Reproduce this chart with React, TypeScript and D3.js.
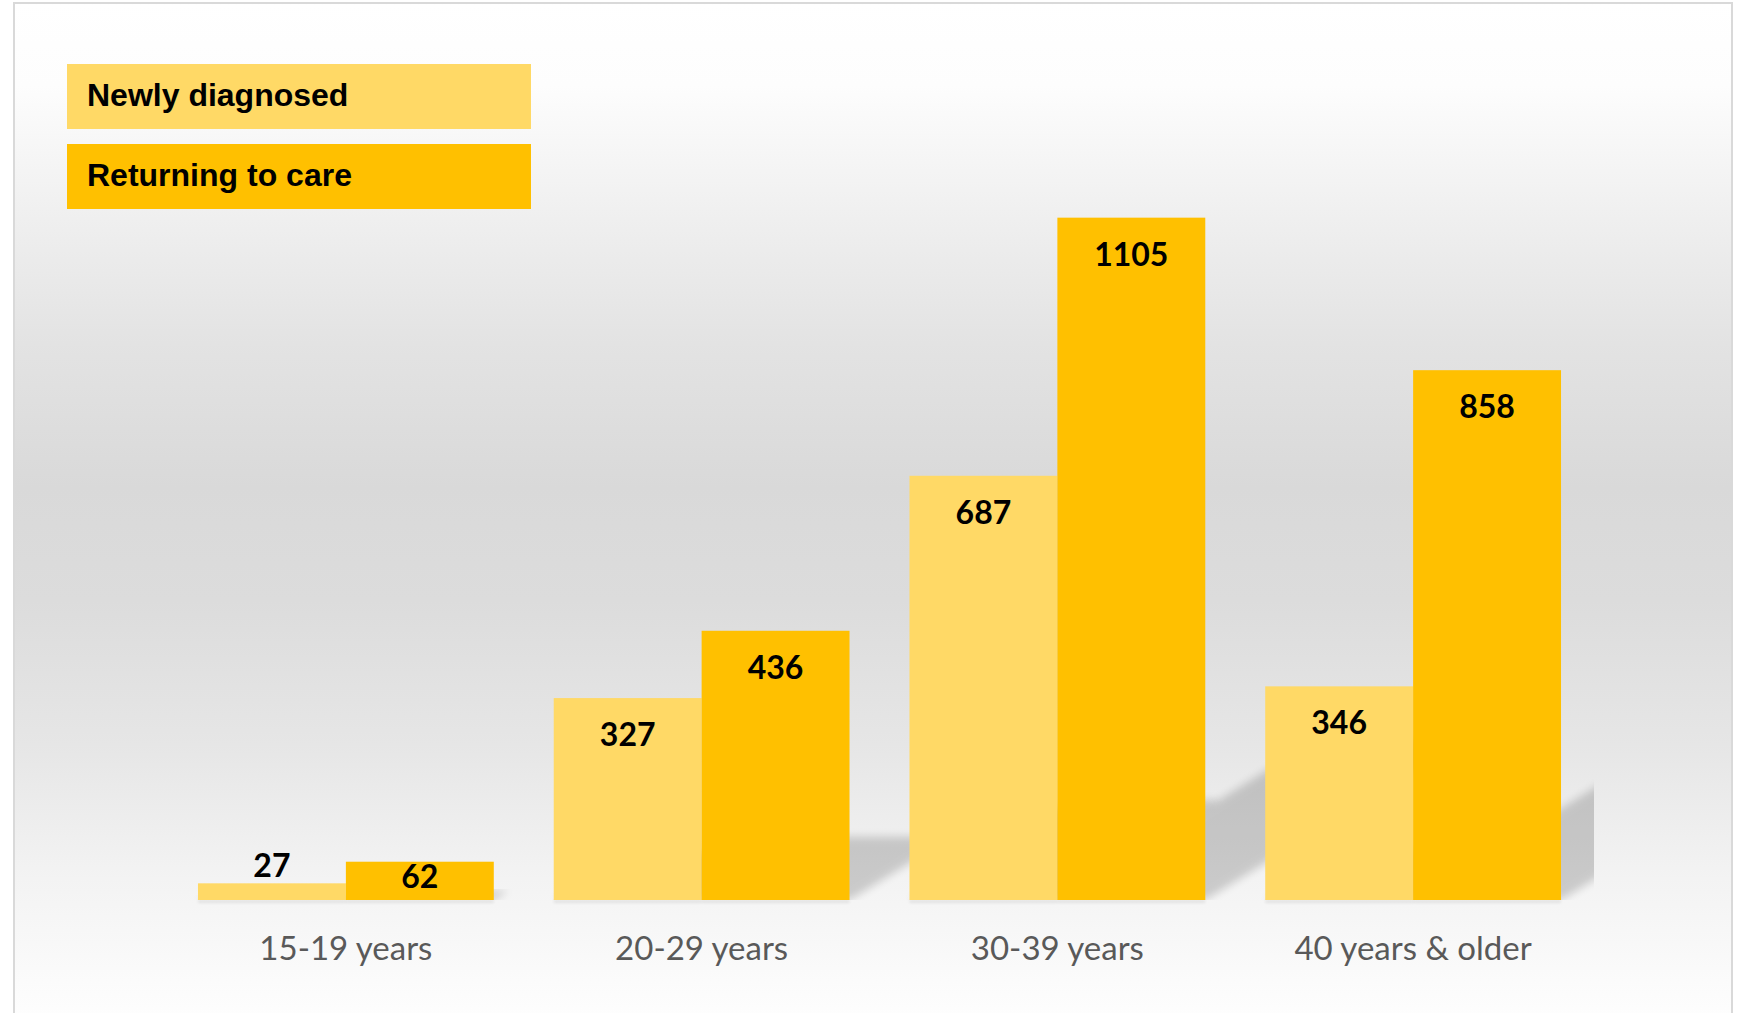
import React from "react";
import * as d3 from "d3";

const categories = ["15-19 years", "20-29 years", "30-39 years", "40 years & older"];
const seriesNames = ["Newly diagnosed", "Returning to care"];
const newlyDiagnosed = [27, 327, 687, 346];
const returningToCare = [62, 436, 1105, 858];
const seriesColors = ["#FFD966", "#FFC000"];

const W = 1742;
const H = 1013;
const BASE = 900;
const PLOT_L = 165;
const PLOT_R = 1594;

export default function App() {
  const x0 = d3
    .scaleBand<string>()
    .domain(categories)
    .range([PLOT_L, PLOT_R])
    .paddingInner(0.1685)
    .paddingOuter(0.0927);
  const x1 = d3.scaleBand<string>().domain(seriesNames).range([0, x0.bandwidth()]).padding(0);
  const y = d3.scaleLinear().domain([0, 1200]).range([BASE, 159]);

  const rows = categories.map((c, i) => ({
    cat: c,
    vals: [newlyDiagnosed[i], returningToCare[i]],
  }));

  const bars = rows.flatMap((r) =>
    r.vals.map((v, j) => {
      const xs = (x0(r.cat) ?? 0) + (x1(seriesNames[j]) ?? 0);
      const top = y(v);
      return { key: r.cat + j, x: xs, w: x1.bandwidth(), top, h: BASE - top, v, color: seriesColors[j] };
    })
  );

  const s = 0.235;
  const k = 0.38;
  const shadowPath = (b: any) => {
    const sh = b.h;
    return `M${b.x},${BASE} L${b.x + b.w},${BASE} L${b.x + b.w + k * sh},${BASE - s * sh} L${b.x + k * sh},${BASE - s * sh} Z`;
  };

  const labelY = (b: any) => (b.h > 60 ? b.top + 48 : b.h > 25 ? BASE - 12 : b.top - 6);

  return (
    <svg
      width={W}
      height={H}
      style={{ position: "absolute", left: 0, top: 0, display: "block" }}
    >
      <defs>
        <linearGradient id="bg" x1="0" y1="0" x2="0" y2="1">
          <stop offset="0" stopColor="#ffffff" />
          <stop offset="0.08" stopColor="#fdfdfd" />
          <stop offset="0.2" stopColor="#f0f0f0" />
          <stop offset="0.33" stopColor="#e3e3e3" />
          <stop offset="0.47" stopColor="#d9d9d9" />
          <stop offset="0.58" stopColor="#dcdcdc" />
          <stop offset="0.72" stopColor="#e6e6e6" />
          <stop offset="0.85" stopColor="#f3f3f3" />
          <stop offset="1" stopColor="#ffffff" />
        </linearGradient>
        <filter id="blur" x="-20%" y="-20%" width="140%" height="140%">
          <feGaussianBlur stdDeviation="4" />
        </filter>
        <filter id="blur2" x="-5%" y="-50%" width="110%" height="200%">
          <feGaussianBlur stdDeviation="1.5" />
        </filter>
        <clipPath id="plotClip">
          <rect x={PLOT_L} y={0} width={PLOT_R - PLOT_L} height={BASE} />
        </clipPath>
      </defs>
      <rect x={0} y={0} width={W} height={H} fill="#ffffff" />
      <rect x={14} y={3} width={1718} height={1030} fill="url(#bg)" stroke="#d9d9d9" strokeWidth={2} />

      {/* perspective shadows */}
      <g clipPath="url(#plotClip)">
        {bars.map((b) => (
          <path key={"s" + b.key} d={shadowPath(b)} fill="#000" opacity={0.17} filter="url(#blur)" />
        ))}
      </g>
      {/* small shadow below bars */}
      {bars.map((b) => (
        <rect key={"u" + b.key} x={b.x} y={BASE} width={b.w} height={3} fill="#000" opacity={0.08} filter="url(#blur2)" />
      ))}

      {/* bars */}
      {bars.map((b) => (
        <rect key={b.key} x={b.x} y={b.top} width={b.w} height={b.h} fill={b.color} />
      ))}

      {/* data labels */}
      {bars.map((b) => (
        <text
          key={"l" + b.key}
          x={b.x + b.w / 2}
          y={labelY(b)}
          textAnchor="middle"
          fontFamily="Lato, 'Open Sans', sans-serif"
          fontWeight={700}
          fontSize={32}
          fill="#000"
        >
          {b.v}
        </text>
      ))}

      {/* category labels */}
      {categories.map((c) => (
        <text
          key={"c" + c}
          x={(x0(c) ?? 0) + x0.bandwidth() / 2}
          y={960}
          textAnchor="middle"
          fontFamily="Lato, 'Open Sans', sans-serif"
          fontSize={33}
          fill="#595959"
        >
          {c}
        </text>
      ))}

      {/* legend */}
      {seriesNames.map((n, i) => (
        <g key={"lg" + n} transform={`translate(67, ${64 + i * 80})`}>
          <rect x={0} y={0} width={464} height={65} fill={seriesColors[i]} />
          <text
            x={20}
            y={42}
            fontFamily="'Liberation Sans', Arial, sans-serif"
            fontWeight={700}
            fontSize={32}
            fill="#000"
          >
            {n}
          </text>
        </g>
      ))}
    </svg>
  );
}
